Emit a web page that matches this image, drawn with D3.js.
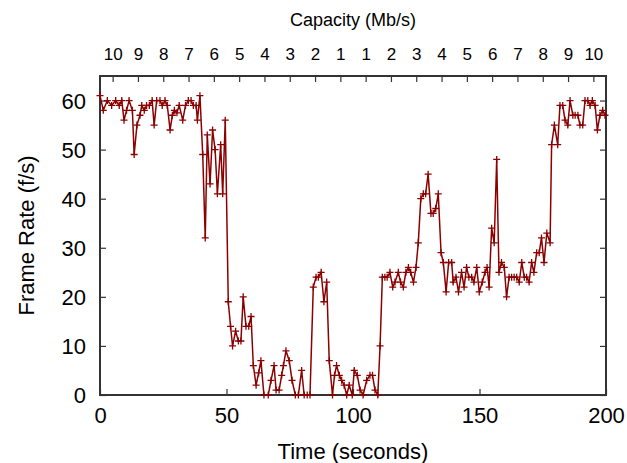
<!DOCTYPE html>
<html>
<head>
<meta charset="utf-8">
<script src="https://cdn.jsdelivr.net/npm/d3@7"></script>
<style>
  body { margin: 0; background: #fff; }
  text { font-family: "Liberation Sans", Arial, sans-serif; fill: #000; }
</style>
</head>
<body>
<script>
// time stamps (s) and frame rate (f/s)
var times = [0, 1.3, 2.9, 4.6, 6.2, 7.6, 8.6, 9.5, 10.5, 11.5, 12.8, 13.5, 14.6, 15.8, 16.5, 17.5, 18.4, 19.5,
  20.6, 21.4, 22.4, 23.7, 24.6, 25.7, 26.6, 27.7, 28.6, 29.4, 30.4, 31.3, 32.7, 33.8, 34.9, 36, 36.9, 38, 38.5, 39.5,
  40.6, 41.6, 42.4, 43.5, 44.5, 45.5, 46.4, 47.7, 48.5, 49.5, 50.7, 51.6, 52.4, 53.6, 54.7, 55.7, 56.6, 57.7, 58.8, 59.7,
  60.6, 61.7, 62.7, 63.6, 64.8, 66.5, 67.6, 68.8, 69.6, 70.8, 71.8, 72.5, 73.5, 74.8, 75.9, 77.2, 78.4, 79.7,
  80.7, 81.9, 83, 84.3, 85.4, 86.3, 87.4, 88.5, 89.6, 90.6, 91.9, 92.7, 93.5, 94.6, 95.5, 96.5, 97.5, 98.5, 99.7,
  100.5, 101.7, 102.8, 104, 105.4, 106.7, 107.7, 108.7, 109.8, 110.7, 111.6, 112.6, 113.5, 114.6, 115.7, 116.6, 117.9, 118.8, 119.9,
  120.9, 121.9, 122.8, 123.9, 124.9, 125.8, 126.8, 127.8, 128.7, 129.7, 130.8, 131.7, 132.7, 133.7, 134.8, 135.7, 136.8, 137.8, 139, 139.6,
  140.7, 141.7, 142.9, 143.9, 144.9, 145.8, 146.9, 147.8, 148.9, 149.9, 151.1, 152.2, 153, 153.8, 154.8, 155.8, 156.8, 157.7, 158.7, 159.8,
  160.7, 161.7, 162.7, 163.7, 164.7, 165.7, 166.7, 167.7, 168.6, 169.6, 170.6, 171.5, 172.6, 173.6, 174.5, 175.5, 176.6, 177.9, 178.5, 179.6,
  180.9, 181.8, 182.9, 183.8, 184.9, 185.8, 186.9, 187.8, 188.9, 189.7, 190.8, 191.7, 192.8, 193.7, 194.6, 195.7, 196.6, 197.6, 198.7, 199.6];
var fps = [61, 58, 60, 59, 60, 59, 60, 56, 58, 60, 58, 49, 55, 57, 59, 58, 59, 59,
  60, 55, 60, 60, 59, 60, 59, 54, 57, 58, 57.5, 59, 56, 59, 60, 60, 59, 59, 56, 61,
  49, 32, 53, 43, 54, 50, 41, 51, 41, 56, 19, 14, 10, 13, 11, 11, 20, 14, 14, 16,
  6, 2, 4.5, 7, 0, 0, 3, 6, 1, 1, 4, 6, 9, 7, 3, 0, 0, 5,
  0, 0, 0, 22, 24, 24, 25, 19, 23, 7, 0, 4, 6, 4, 3, 2, 0, 2, 0,
  5, 4, 1, 0, 3, 4, 4, 1, 0, 10, 24, 24, 24, 25, 22, 23, 25, 23, 22,
  25, 26, 25, 23, 26, 31, 40, 41, 41, 45, 37, 37, 38, 41, 29, 27, 21, 27, 27, 23,
  24, 21, 25, 22, 26, 24, 24, 23, 26, 21, 23, 25, 26, 22, 34, 31, 48, 25, 27, 26,
  20, 24, 24, 24, 24, 23, 27, 24, 24, 23, 27, 25, 29, 29, 32, 27, 33, 31, 51, 55,
  51, 59, 59, 56, 55, 60, 57, 57, 57, 55, 55, 60, 60, 59, 60, 59, 54, 57, 58, 57];

// bottom / left ticks
var timeTicks = [0, 50, 100, 150, 200];
var rateTicks = [0, 10, 20, 30, 40, 50, 60];
// top axis: link capacity per 10 s step
var capTimes = [5, 15, 25, 35, 45, 55, 65, 75, 85, 95, 105, 115, 125, 135, 145, 155, 165, 175, 185, 195];
var capLabels = ["10", "9", "8", "7", "6", "5", "4", "3", "2", "1", "1", "2", "3", "4", "5", "6", "7", "8", "9", "10"];

var W = 627, H = 463;
var margin = {left: 100, right: 21, top: 76, bottom: 68};
var pw = W - margin.left - margin.right, ph = H - margin.top - margin.bottom;

var svg = d3.select("body").append("svg").attr("width", W).attr("height", H);
var g = svg.append("g").attr("transform", "translate(" + margin.left + "," + margin.top + ")");

var x = d3.scaleLinear().domain([0, 200]).range([0, pw]);
var y = d3.scaleLinear().domain([0, 65]).range([ph, 0]);

var axisCol = "#333";
var tl = 6;

//bottom axis
var xb = g.append("g").attr("transform", "translate(0," + ph + ")")
  .call(d3.axisBottom(x).tickValues(timeTicks).tickSizeInner(-tl).tickSizeOuter(0).tickPadding(12));
//left axis
var yl = g.append("g")
  .call(d3.axisLeft(y).tickValues(rateTicks).tickSizeInner(-tl).tickSizeOuter(0).tickPadding(14));
//right axis, mirrored ticks
var yr = g.append("g").attr("transform", "translate(" + pw + ",0)")
  .call(d3.axisRight(y).tickValues(rateTicks).tickSizeInner(-tl).tickSizeOuter(0).tickFormat(""));
//top axis with capacity
var xt = g.append("g")
  .call(d3.axisTop(x).tickValues(capTimes).tickSizeInner(-tl).tickSizeOuter(0).tickPadding(16)
    .tickFormat(function(d, i) { return capLabels[i]; }));

[xb, yl, yr, xt].forEach(function(a) {
  a.select(".domain").remove();
  a.selectAll(".tick line").attr("stroke", axisCol).attr("stroke-width", 1.2);
  a.selectAll("text").style("font-family", "Liberation Sans, Arial, sans-serif").attr("fill", "#000");
});
xb.selectAll("text").style("font-size", "22px");
yl.selectAll("text").style("font-size", "22px").attr("dy", "0.35em");
xt.selectAll("text").style("font-size", "17px");

//frame
g.append("rect").attr("width", pw).attr("height", ph)
  .attr("fill", "none").attr("stroke", axisCol).attr("stroke-width", 2);

//data line
var pts = times.map(function(t, i) { return [t, fps[i]]; });
var col = "#8b0000";
g.append("path").datum(pts)
  .attr("fill", "none").attr("stroke", col).attr("stroke-width", 1.5)
  .attr("d", d3.line().x(function(d) { return x(d[0]); }).y(function(d) { return y(d[1]); }));

//plus markers
var s = 3.5;
g.append("g").selectAll("path.m").data(pts).enter().append("path")
  .attr("class", "m")
  .attr("d", function(d) {
    var px = x(d[0]), py = y(d[1]);
    return "M" + (px - s) + "," + py + "H" + (px + s) + "M" + px + "," + (py - s) + "V" + (py + s);
  })
  .attr("stroke", col).attr("stroke-width", 1.3);

//axis titles
svg.append("text").attr("x", margin.left + pw / 2).attr("y", 459)
  .attr("text-anchor", "middle").style("font-size", "22px").text("Time (seconds)");
svg.append("text").attr("transform", "translate(34," + (margin.top + ph / 2) + ") rotate(-90)")
  .attr("text-anchor", "middle").style("font-size", "22px").text("Frame Rate (f/s)");
svg.append("text").attr("x", margin.left + pw / 2).attr("y", 26)
  .attr("text-anchor", "middle").style("font-size", "18px").text("Capacity (Mb/s)");
</script>
</body>
</html>
